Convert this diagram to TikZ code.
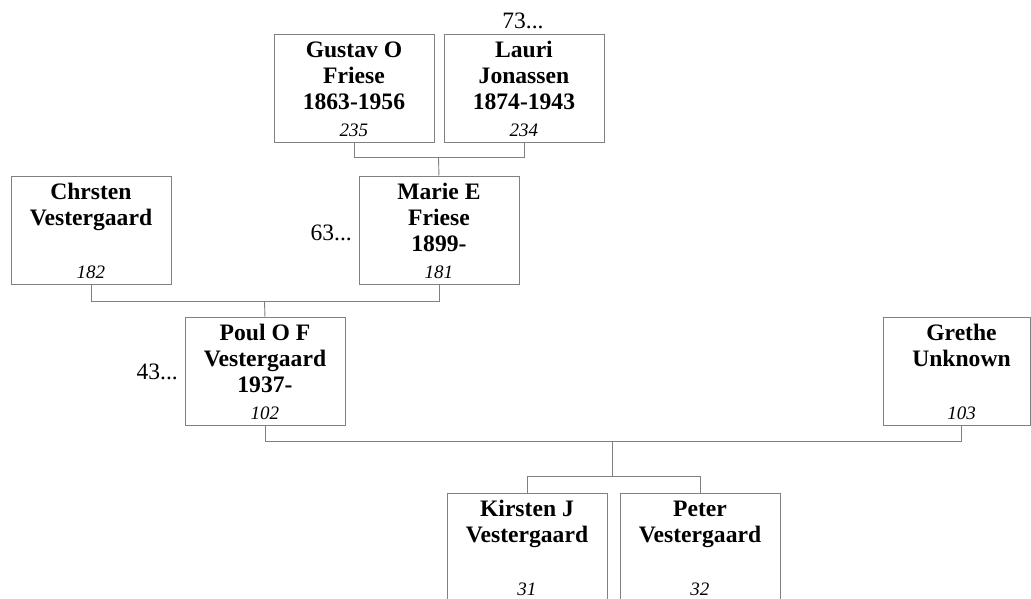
\documentclass[tikz,border=0pt]{standalone}
\usepackage{fontspec}
\setmainfont{Liberation Serif}
\usetikzlibrary{calc}
\definecolor{linegray}{RGB}{128,128,128}
\tikzset{
  pbox/.style={draw=linegray, line width=0.9pt, rectangle, inner sep=0pt, minimum height=108pt, anchor=north west},
  conn/.style={draw=linegray, line width=0.9pt},
  nametext/.style={inner sep=0pt, anchor=base, font=\fontsize{23.6}{26}\selectfont\bfseries},
  numtext/.style={inner sep=0pt, anchor=base, font=\fontsize{19}{22}\selectfont\itshape},
  moretext/.style={inner sep=0pt, anchor=base, font=\fontsize{23.5}{26}\selectfont}
}
\newcommand{\famperson}[6]{%
  \node[pbox, minimum width=#4] (#1) at (#2,#3) {};
  \foreach \ln [count=\i] in {#5} {
    \node[nametext] at ($(#1.north)+(0,{23.5+26*(\i-1)})$) {\ln};
  }
  \node[numtext] at ($(#1.south)+(0,-5.5)$) {#6};
}
\begin{document}
\begin{tikzpicture}[x=1pt,y=-1pt]
\useasboundingbox (0,0) rectangle (1031,598);
% persons
\famperson{gustav}{273.5}{33.5}{160pt}{Gustav O,Friese,1863-1956}{235}
\famperson{lauri}{443.5}{33.5}{160pt}{Lauri,Jonassen,1874-1943}{234}
\famperson{chrsten}{10.5}{175.5}{160pt}{Chrsten,Vestergaard}{182}
\famperson{marie}{358.5}{175.5}{160pt}{Marie E,Friese,1899-}{181}
\famperson{poul}{184.5}{316.5}{160pt}{Poul O F,Vestergaard,1937-}{102}
\famperson{kirsten}{446.5}{492.5}{160pt}{Kirsten J,Vestergaard}{31}
\famperson{peter}{619.5}{492.5}{160pt}{Peter,Vestergaard}{32}
% Grethe (box cut at the right edge)
\node[pbox, minimum width=147pt] (grethe) at (882.5,316.5) {};
\node[nametext] at (961.5,340) {Grethe};
\node[nametext] at (961.5,366) {Unknown};
\node[numtext] at (961.5,419) {103};
% continuation marks
\node[moretext] (more73) at (523,28) {73...};
\node[moretext, anchor=base east] (more63) at (352,240) {63...};
\node[moretext, anchor=base east] (more43) at (178,379) {43...};
% connectors
\coordinate (gl) at (438.5,157.5);
\draw[conn] (gustav.south) |- (gl) -| (lauri.south);
\draw[conn] (gl) -- (marie.north);
\coordinate (cm) at (264.5,301.5);
\draw[conn] (chrsten.south) |- (cm) -| (marie.south);
\draw[conn] (cm) -- (poul.north);
\coordinate (pg) at (612.5,441.5);
\coordinate (gretheb) at (961.5,424.5);
\draw[conn] (poul.south) |- (pg) -| (gretheb);
\coordinate (kb) at (612.5,476.5);
\draw[conn] (pg) -- (kb);
\draw[conn] (kirsten.north) |- (kb) -| (peter.north);
\end{tikzpicture}
\end{document}
